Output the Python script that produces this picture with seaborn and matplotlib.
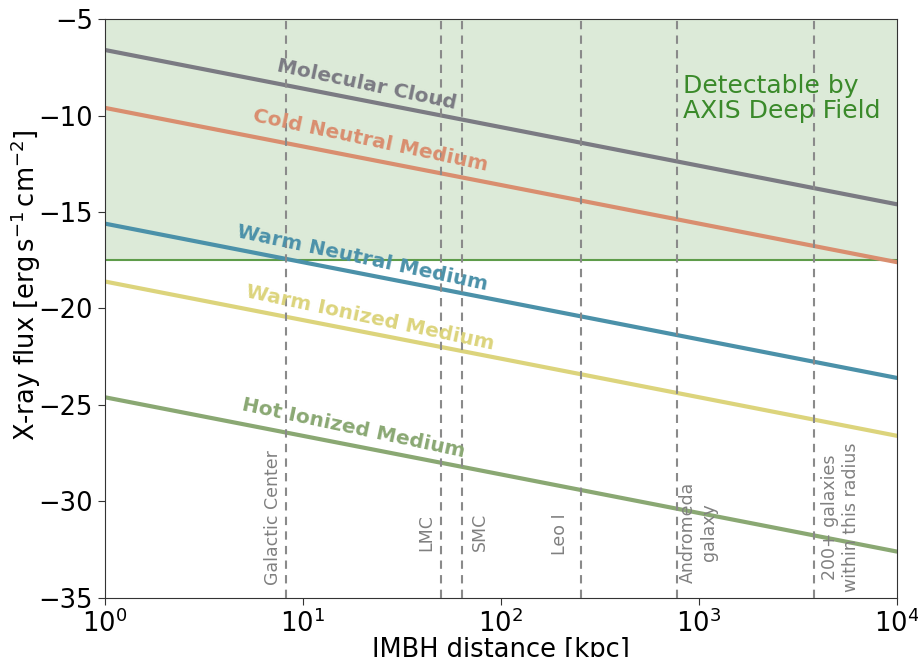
import matplotlib
matplotlib.use("Agg")
import matplotlib.pyplot as plt
import numpy as np
import pandas as pd
import seaborn as sns

# Data: log10 flux at d = 1 kpc and d = 1e4 kpc
distance_kpc = [1.0, 1.0e4]
phases = ["Molecular Cloud", "Cold Neutral Medium", "Warm Neutral Medium",
          "Warm Ionized Medium", "Hot Ionized Medium"]
flux_molecular = [-6.6, -14.6]
flux_cold_neutral = [-9.6, -17.6]
flux_warm_neutral = [-15.6, -23.6]
flux_warm_ionized = [-18.6, -26.6]
flux_hot_ionized = [-24.6, -32.6]
detect_limit = -17.5

landmarks = ["Galactic Center", "LMC", "SMC", "Leo I",
             "Andromeda\ngalaxy", "200+ galaxies\nwithin this radius"]
landmark_kpc = [8.2, 50.0, 64.0, 254.0, 780.0, 3800.0]

# Styles
COLORS = ["#7b7b83", "#d98e6f", "#4b91a9", "#dcd47c", "#8aa873"]
LINE_WIDTH = 3
WIDTH = 9.18
HEIGHT = 6.57
# label placement (x, y, in data coords)
PHASE_LABEL_POS = [(21, -8.4), (22, -11.3), (20, -17.4), (22, -20.5), (18, -26.2)]
LANDMARK_X_FACTOR = [0.86, 0.84, 1.23, 0.78, 1.28, 1.37]
LANDMARK_Y = [-30.85, -31.6, -31.6, -31.7, -31.6, -30.8]

sns.set_style("ticks")
plt.rcParams["font.family"] = ["DejaVu Sans"]
plt.rcParams["text.color"] = "black"
plt.rcParams["axes.labelcolor"] = "black"
plt.rcParams["xtick.color"] = "black"
plt.rcParams["ytick.color"] = "black"
plt.rcParams["axes.edgecolor"] = "#333333"

fig = plt.figure(figsize=(WIDTH, HEIGHT), dpi=100)
ax = fig.add_axes([0.114, 0.09, 0.863, 0.881])

ax.axhspan(detect_limit, -5, facecolor="#dcead8", edgecolor="none", zorder=0)
ax.axhline(detect_limit, color="#5e9c4a", linewidth=1.5, zorder=1)

series = [flux_molecular, flux_cold_neutral, flux_warm_neutral,
          flux_warm_ionized, flux_hot_ionized]
rows = []
for name, vals in zip(phases, series):
    for d, f in zip(distance_kpc, vals):
        rows.append({"distance": d, "flux": f, "phase": name})
df = pd.DataFrame(rows)

sns.lineplot(data=df, x="distance", y="flux", hue="phase", hue_order=phases,
             palette=COLORS, linewidth=LINE_WIDTH, legend=False, ax=ax, zorder=2)

for name, color, (lx, ly) in zip(phases, COLORS, PHASE_LABEL_POS):
    ax.text(lx, ly, name, color=color, fontsize=14.5, fontweight="bold",
            rotation=-12, ha="center", va="center", zorder=4)

for name, d, fx, ly in zip(landmarks, landmark_kpc, LANDMARK_X_FACTOR, LANDMARK_Y):
    ax.axvline(d, color="#8a8a8a", linestyle="--", linewidth=1.5, dashes=(4, 3), zorder=3)
    ax.text(d * fx, ly, name, color="#808080", fontsize=12.5, rotation=90,
            ha="center", va="center", multialignment="center", zorder=4)

ax.text(830, -9.1, "Detectable by\nAXIS Deep Field", color="#3a8a2a", fontsize=18,
        ha="left", va="center", linespacing=1.05, zorder=4)

ax.set_xscale("log")
ax.set_xlim(1, 1e4)
ax.set_ylim(-35, -5)
ax.set_xticks([1, 10, 100, 1000, 10000])
ax.minorticks_off()
ax.tick_params(labelsize=18.5, length=5, color="#333333")
ax.set_xlabel("IMBH distance [kpc]", fontsize=18.5, labelpad=-1)
ax.set_ylabel(r"X-ray flux [$\mathrm{erg\,s^{-1}\,cm^{-2}}$]", fontsize=18.5)
ax.yaxis.set_label_coords(-0.078, 0.54)

plt.savefig("out.png", dpi=100)
